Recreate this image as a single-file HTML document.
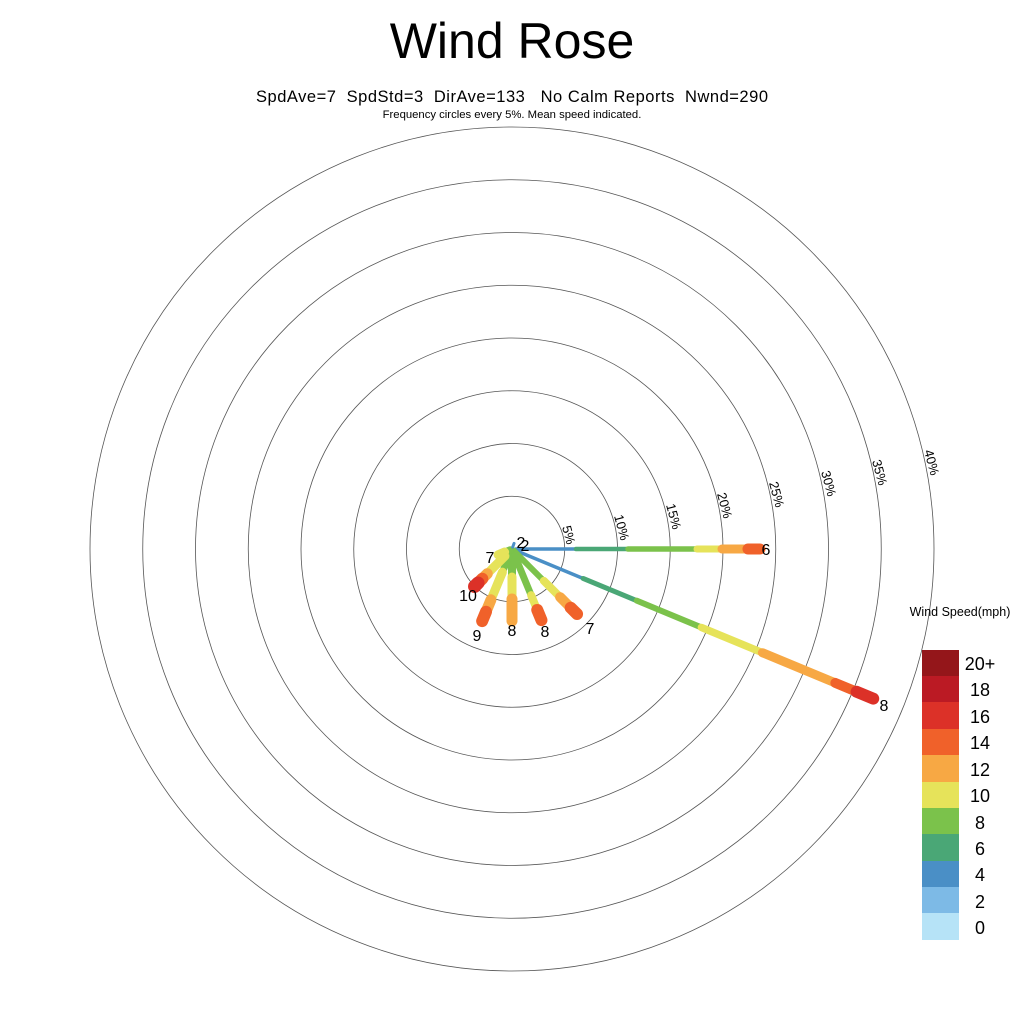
<!DOCTYPE html>
<html><head><meta charset="utf-8"><style>
html,body{margin:0;padding:0;background:#fff}
svg{display:block;font-family:"Liberation Sans",sans-serif}
</style></head><body>
<svg width="1024" height="1024" viewBox="0 0 1024 1024" xmlns="http://www.w3.org/2000/svg">
<text x="512" y="58" font-size="50" text-anchor="middle">Wind Rose</text>
<text x="256" y="102" font-size="16.5" textLength="512" lengthAdjust="spacing" xml:space="preserve">SpdAve=7  SpdStd=3  DirAve=133   No Calm Reports  Nwnd=290</text>
<text x="512" y="118" font-size="11.3" text-anchor="middle">Frequency circles every 5%. Mean speed indicated.</text>
<g fill="none" stroke="#555" stroke-width="0.8">
<circle cx="512" cy="549" r="52.75"/><circle cx="512" cy="549" r="105.5"/><circle cx="512" cy="549" r="158.25"/><circle cx="512" cy="549" r="211"/><circle cx="512" cy="549" r="263.75"/><circle cx="512" cy="549" r="316.5"/><circle cx="512" cy="549" r="369.25"/><circle cx="512" cy="549" r="422"/>
</g>
<g font-size="13">
<text transform="translate(562,527) rotate(75)">5%</text>
<text transform="translate(614,516) rotate(75)">10%</text>
<text transform="translate(666,505) rotate(75)">15%</text>
<text transform="translate(717,494) rotate(75)">20%</text>
<text transform="translate(769,483) rotate(75)">25%</text>
<text transform="translate(821,472) rotate(75)">30%</text>
<text transform="translate(872,461) rotate(75)">35%</text>
<text transform="translate(924,451) rotate(75)">40%</text>
</g>
<g stroke-linecap="round" fill="none">
<g>
<line x1="516" y1="549" x2="576" y2="549" stroke="#4a8fc6" stroke-width="3.5"/>
<line x1="576" y1="549" x2="628" y2="549" stroke="#4aa776" stroke-width="4.5"/>
<line x1="628" y1="549" x2="697" y2="549" stroke="#7bc24b" stroke-width="5.5"/>
<line x1="697" y1="549" x2="722" y2="549" stroke="#e6e35a" stroke-width="7"/>
<line x1="722" y1="549" x2="748" y2="549" stroke="#f7a844" stroke-width="9"/>
<line x1="748" y1="549" x2="760" y2="549" stroke="#f0612a" stroke-width="11"/>
</g>
<g transform="rotate(22.5 512 549)">
<line x1="516" y1="549" x2="589" y2="549" stroke="#4a8fc6" stroke-width="3.5"/>
<line x1="589" y1="549" x2="647" y2="549" stroke="#4aa776" stroke-width="5"/>
<line x1="647" y1="549" x2="717" y2="549" stroke="#7bc24b" stroke-width="6"/>
<line x1="717" y1="549" x2="783" y2="549" stroke="#e6e35a" stroke-width="7.5"/>
<line x1="783" y1="549" x2="862" y2="549" stroke="#f7a844" stroke-width="9"/>
<line x1="862" y1="549" x2="885" y2="549" stroke="#f0612a" stroke-width="10"/>
<line x1="885" y1="549" x2="903" y2="549" stroke="#dc3128" stroke-width="12"/>
</g>
<g transform="rotate(45 512 549)">
<line x1="514" y1="549" x2="557" y2="549" stroke="#7bc24b" stroke-width="6"/>
<line x1="557" y1="549" x2="580" y2="549" stroke="#e6e35a" stroke-width="8"/>
<line x1="580" y1="549" x2="595" y2="549" stroke="#f7a844" stroke-width="10"/>
<line x1="595" y1="549" x2="604" y2="549" stroke="#f0612a" stroke-width="12"/>
</g>
<g transform="rotate(67.5 512 549)">
<line x1="514" y1="549" x2="562" y2="549" stroke="#7bc24b" stroke-width="7"/>
<line x1="562" y1="549" x2="578" y2="549" stroke="#e6e35a" stroke-width="8"/>
<line x1="578" y1="549" x2="589" y2="549" stroke="#f0612a" stroke-width="12"/>
</g>
<g transform="rotate(90 512 549)">
<line x1="514" y1="549" x2="540" y2="549" stroke="#7bc24b" stroke-width="8"/>
<line x1="540" y1="549" x2="562" y2="549" stroke="#e6e35a" stroke-width="9"/>
<line x1="562" y1="549" x2="584" y2="549" stroke="#f7a844" stroke-width="11"/>
</g>
<g transform="rotate(112.5 512 549)">
<line x1="514" y1="549" x2="537" y2="549" stroke="#7bc24b" stroke-width="7"/>
<line x1="537" y1="549" x2="567" y2="549" stroke="#e6e35a" stroke-width="9"/>
<line x1="567" y1="549" x2="580" y2="549" stroke="#f7a844" stroke-width="11"/>
<line x1="580" y1="549" x2="590" y2="549" stroke="#f0612a" stroke-width="12"/>
</g>
<g transform="rotate(135 512 549)">
<line x1="514" y1="549" x2="522" y2="549" stroke="#7bc24b" stroke-width="7"/>
<line x1="522" y1="549" x2="547" y2="549" stroke="#e6e35a" stroke-width="9"/>
<line x1="547" y1="549" x2="554" y2="549" stroke="#f7a844" stroke-width="11"/>
<line x1="554" y1="549" x2="560" y2="549" stroke="#f0612a" stroke-width="12"/>
<line x1="560" y1="549" x2="565" y2="549" stroke="#dc3128" stroke-width="13"/>
</g>
<g transform="rotate(157.5 512 549)">
<line x1="514" y1="549" x2="520" y2="549" stroke="#7bc24b" stroke-width="7"/>
<line x1="520" y1="549" x2="527" y2="549" stroke="#e6e35a" stroke-width="9"/>
</g>
<g transform="rotate(-70 512 549)">
<line x1="514" y1="549" x2="518" y2="549" stroke="#4a8fc6" stroke-width="3"/>
</g>
</g>
<g font-size="16" text-anchor="middle">
<text x="521" y="548">2</text>
<text x="525" y="551">2</text>
<text x="766" y="555">6</text>
<text x="884" y="711">8</text>
<text x="590" y="634">7</text>
<text x="545" y="637">8</text>
<text x="512" y="636">8</text>
<text x="477" y="641">9</text>
<text x="468" y="601">10</text>
<text x="490" y="563">7</text>
</g>
<text x="960" y="616" font-size="12.5" text-anchor="middle">Wind Speed(mph)</text>
<g>
<rect x="922" y="650" width="37" height="27" fill="#94161a"/>
<rect x="922" y="676" width="37" height="27" fill="#bb1a24"/>
<rect x="922" y="702" width="37" height="27" fill="#dc3128"/>
<rect x="922" y="729" width="37" height="27" fill="#f0612a"/>
<rect x="922" y="755" width="37" height="27" fill="#f7a844"/>
<rect x="922" y="782" width="37" height="27" fill="#e6e35a"/>
<rect x="922" y="808" width="37" height="27" fill="#7bc24b"/>
<rect x="922" y="834" width="37" height="27" fill="#4aa776"/>
<rect x="922" y="861" width="37" height="27" fill="#4a8fc6"/>
<rect x="922" y="887" width="37" height="27" fill="#7dbae6"/>
<rect x="922" y="913" width="37" height="27" fill="#b6e3f7"/>
</g>
<g font-size="18" text-anchor="middle">
<text x="980" y="670">20+</text>
<text x="980" y="696">18</text>
<text x="980" y="723">16</text>
<text x="980" y="749">14</text>
<text x="980" y="776">12</text>
<text x="980" y="802">10</text>
<text x="980" y="829">8</text>
<text x="980" y="855">6</text>
<text x="980" y="881">4</text>
<text x="980" y="908">2</text>
<text x="980" y="934">0</text>
</g>
</svg>
</body></html>
